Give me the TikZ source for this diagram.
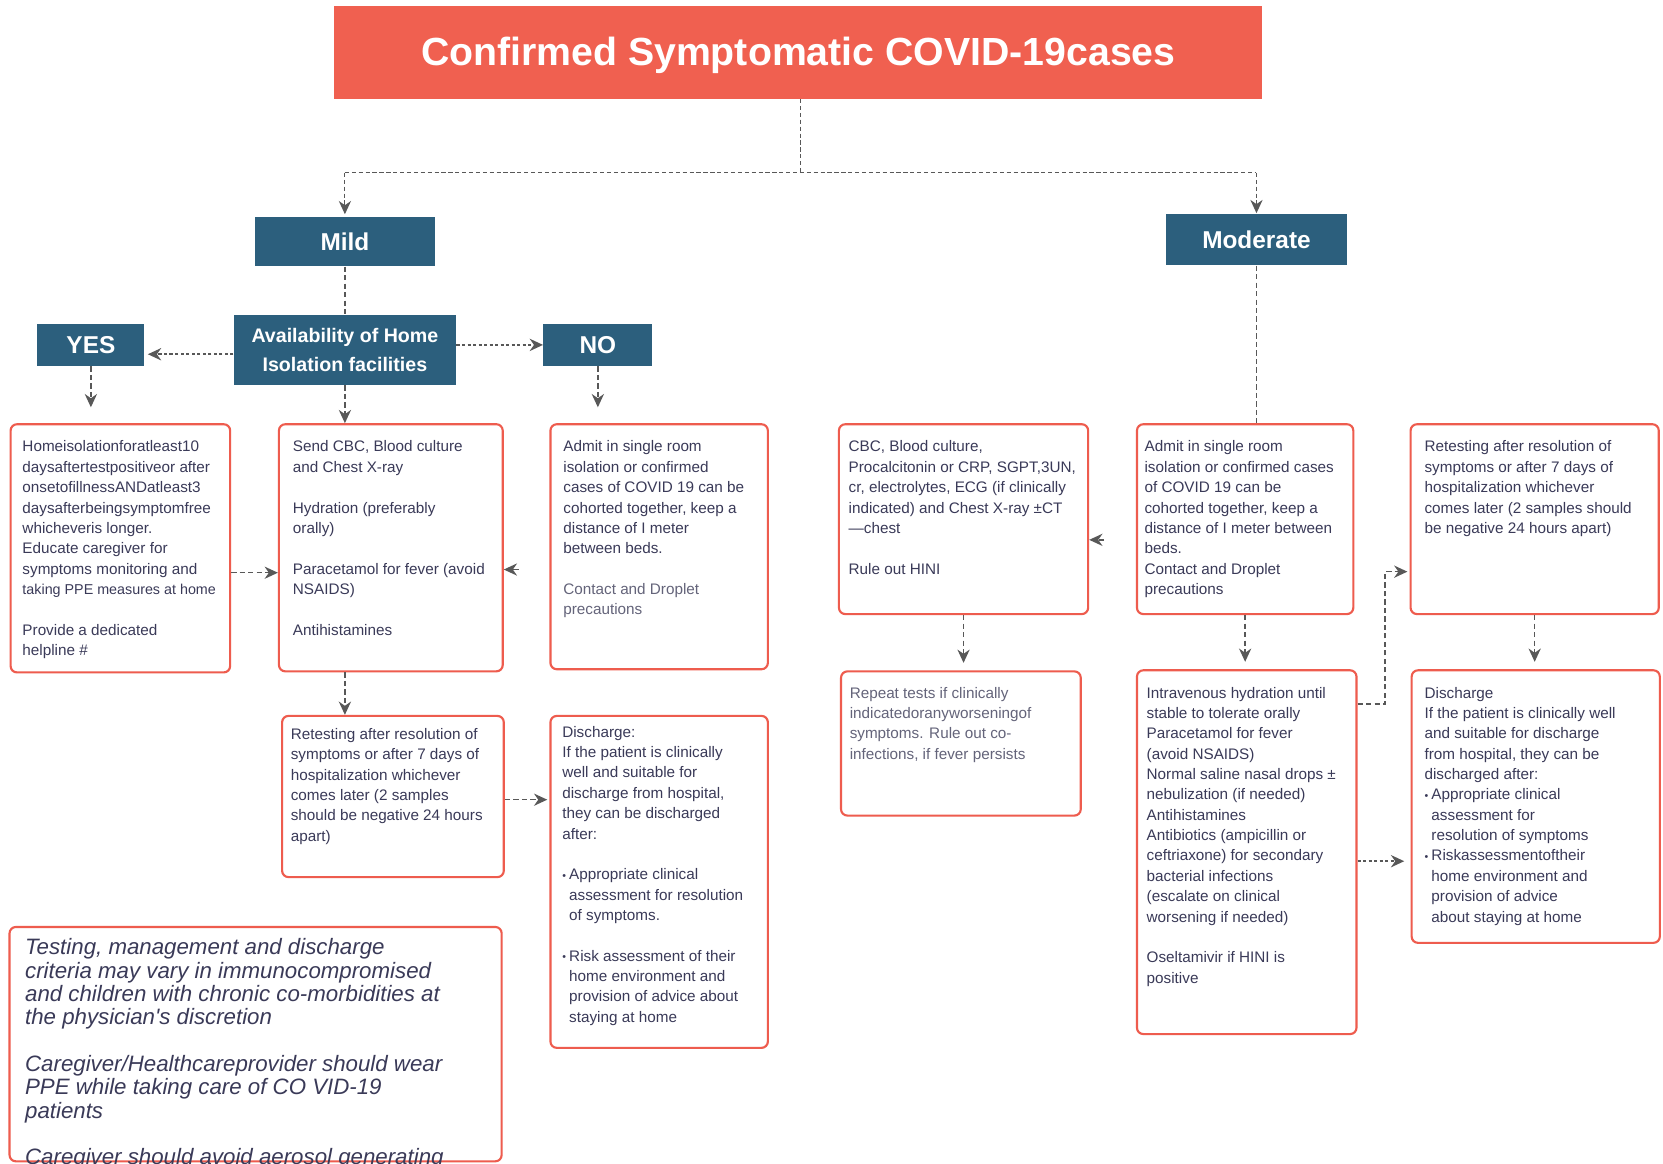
\documentclass[tikz,border=0pt]{standalone}
\usepackage{fontspec}
\setmainfont{Liberation Sans}
\usetikzlibrary{arrows.meta,calc}

\definecolor{titlered}{RGB}{240,96,80}
\definecolor{navy}{RGB}{44,95,125}
\definecolor{boxred}{RGB}{238,92,78}
\definecolor{ink}{RGB}{58,58,88}
\definecolor{softink}{RGB}{100,100,122}
\definecolor{linkgray}{RGB}{88,88,88}

% bullet and hanging indent for list items inside the cards
\newcommand\itembul{\makebox[6.5pt][l]{\raisebox{.6pt}{\fontsize{10}{10}\selectfont\textbullet}}}
\newcommand\itemind{\hspace*{6.5pt}}
\newcommand\blankline{\\[19.2pt]}

\begin{document}
\begin{tikzpicture}[x=1pt,y=-1pt,
  card/.style={draw=boxred, line width=2pt, rounded corners=6pt, anchor=north west, inner sep=0pt},
  tag/.style={fill=navy, text=white, font=\bfseries\fontsize{23}{27}\selectfont, inner sep=0pt, anchor=north west},
  body/.style={anchor=north west, inner sep=0pt, align=left, text=ink, font=\fontsize{14.4}{19.2}\selectfont},
  thinlink/.style={draw=linkgray, line width=1.1pt, dash pattern=on 4pt off 2.5pt},
  link/.style={draw=linkgray, line width=1.4pt, dash pattern=on 5pt off 3pt},
  dotlink/.style={draw=linkgray, line width=2.2pt, dash pattern=on 3pt off 2.2pt},
  tip/.style={-{Stealth[length=12.5pt,width=11.5pt,inset=4pt]}},
]
\useasboundingbox (0,0) rectangle (1568,1097);
\fill[white] (0,0) rectangle (1568,1097);
\clip (0,0) rectangle (1568,1097);

% ---------- header and category labels ----------
\node[fill=titlered, minimum width=875, minimum height=88, anchor=north west, inner sep=0pt,
      text=white, font=\bfseries\fontsize{37}{40}\selectfont] (title) at (315,5)
      {\raisebox{-3pt}[\height][\depth]{Confirmed Symptomatic COVID-19cases}};

\node[tag, minimum width=170, minimum height=47] (mild) at (240,204) {Mild};
\node[tag, minimum width=171, minimum height=48] (moderate) at (1099,202) {Moderate};
\node[tag, minimum width=210, minimum height=66, align=center,
      font=\bfseries\fontsize{18.5}{27}\selectfont] (avail) at (220,297)
      {Availability of Home\\Isolation facilities};
\node[tag, minimum width=101, minimum height=40] (yes) at (35,305) {YES};
\node[tag, minimum width=103, minimum height=40] (no) at (512,305) {NO};

% ---------- cards ----------
\node[card, minimum width=207, minimum height=234] (b1) at (9,399) {};
\node[card, minimum width=211, minimum height=233] (b2) at (262,399) {};
\node[card, minimum width=205, minimum height=231] (b3) at (518,399) {};
\node[card, minimum width=235, minimum height=179] (b4) at (790,399) {};
\node[card, minimum width=204, minimum height=179] (b5) at (1071,399) {};
\node[card, minimum width=234, minimum height=179] (b6) at (1329,399) {};
\node[card, minimum width=209, minimum height=152] (b7) at (265,674) {};
\node[card, minimum width=205, minimum height=313] (b8) at (518,674) {};
\node[card, minimum width=226, minimum height=136] (b9) at (792,632) {};
\node[card, minimum width=207, minimum height=343] (b10) at (1071,631) {};
\node[card, minimum width=234, minimum height=257] (b11) at (1330,631) {};
\node[card, minimum width=464, minimum height=221] (b12) at (8,873) {};

% ---------- card texts ----------
\node[body] (t1) at ($(b1.north west)+(12,13.5)$) {\strut Homeisolationforatleast10\\
daysaftertestpositiveor after\\
onsetofillnessANDatleast3\\
daysafterbeingsymptomfree\\
whicheveris longer.\\
Educate caregiver for\\
symptoms monitoring and\\
{\fontsize{13.5}{19.2}\selectfont taking PPE measures at home}\blankline
Provide a dedicated\\
helpline \#};

\node[body] (t2) at ($(b2.north west)+(14,13.5)$) {\strut Send CBC, Blood culture\\
and Chest X-ray\blankline
Hydration (preferably\\
orally)\blankline
Paracetamol for fever (avoid\\
NSAIDS)\blankline
Antihistamines};

\node[body] (t3) at ($(b3.north west)+(13,13.5)$) {\strut Admit in single room\\
isolation or confirmed\\
cases of COVID 19 can be\\
cohorted together, keep a\\
distance of I meter\\
between beds.\blankline
{\color{softink}Contact and Droplet}\\
{\color{softink}precautions}};

\node[body] (t4) at ($(b4.north west)+(10,13.5)$) {\strut CBC, Blood culture,\\
Procalcitonin or CRP, SGPT,3UN,\\
cr, electrolytes, ECG (if clinically\\
indicated) and Chest X-ray ±CT\\
—chest\blankline
Rule out HINI};

\node[body] (t5) at ($(b5.north west)+(8,13.5)$) {\strut Admit in single room\\
isolation or confirmed cases\\
of COVID 19 can be\\
cohorted together, keep a\\
distance of I meter between\\
beds.\\
Contact and Droplet\\
precautions};

\node[body] (t6) at ($(b6.north west)+(14,13.5)$) {\strut Retesting after resolution of\\
symptoms or after 7 days of\\
hospitalization whichever\\
comes later (2 samples should\\
be negative 24 hours apart)};

\node[body] (t7) at ($(b7.north west)+(9,9.5)$) {\strut Retesting after resolution of\\
symptoms or after 7 days of\\
hospitalization whichever\\
comes later (2 samples\\
should be negative 24 hours\\
apart)};

\node[body] (t8) at ($(b8.north west)+(12,7.5)$) {\strut Discharge:\\
If the patient is clinically\\
well and suitable for\\
discharge from hospital,\\
they can be discharged\\
after:\blankline
\itembul Appropriate clinical\\
\itemind assessment for resolution\\
\itemind of symptoms.\blankline
\itembul Risk assessment of their\\
\itemind home environment and\\
\itemind provision of advice about\\
\itemind staying at home};

\node[body, text=softink] (t9) at ($(b9.north west)+(9,12.5)$) {\strut Repeat tests if clinically\\
indicatedoranyworseningof\\
symptoms. Rule out co-\\
infections, if fever persists};

\node[body] (t10) at ($(b10.north west)+(10,13.5)$) {\strut Intravenous hydration until\\
stable to tolerate orally\\
Paracetamol for fever\\
(avoid NSAIDS)\\
Normal saline nasal drops ±\\
nebulization (if needed)\\
Antihistamines\\
Antibiotics (ampicillin or\\
ceftriaxone) for secondary\\
bacterial infections\\
(escalate on clinical\\
worsening if needed)\blankline
Oseltamivir if HINI is\\
positive};

\node[body] (t11) at ($(b11.north west)+(13,13.5)$) {\strut Discharge\\
If the patient is clinically well\\
and suitable for discharge\\
from hospital, they can be\\
discharged after:\\
\itembul Appropriate clinical\\
\itemind assessment for\\
\itemind resolution of symptoms\\
\itembul Riskassessmentoftheir\\
\itemind home environment and\\
\itemind provision of advice\\
\itemind about staying at home};

\node[body, font=\itshape\fontsize{21}{22}\selectfont] (t12) at ($(b12.north west)+(15.5,11.6)$)
{\strut Testing, management and discharge\\
criteria may vary in immunocompromised\\
and children with chronic co-morbidities at\\
the physician\textquotesingle s discretion\\[22pt]
Caregiver/Healthcareprovider should wear\\
PPE while taking care of CO VID-19\\
patients\\[22pt]
Caregiver should avoid aerosol generating};

% ---------- connectors ----------
\coordinate (split) at (755,163);
\coordinate (lsplit) at (mild.north |- split);
\coordinate (rsplit) at (moderate.north |- split);
\draw[thinlink] (title.south -| split) -- (split);
\draw[thinlink] (lsplit) -- (rsplit);
\draw[thinlink,tip,shorten >=2pt] (lsplit) -- (mild.north);
\draw[thinlink,tip,shorten >=1pt] (rsplit) -- (moderate.north);

\draw[link] (mild.south) -- (avail.north);
\draw[dotlink,tip,shorten >=3pt] (avail.west |- 0,334) -- (yes.east |- 0,334);
\draw[dotlink,tip] (avail.east |- no.west) -- (no.west);

\draw[link,tip,shorten >=15pt] (yes.south) -- (yes.south |- b1.north);
\draw[link,tip] (avail.south) -- (avail.south |- b2.north);
\draw[link,tip,shorten >=15pt] (no.south) -- (no.south |- b3.north);

\draw[link,tip] (b1.east |- 0,540) -- (b2.west |- 0,540);
\coordinate (b3in) at (b2.east |- 0,537);
\draw[link,tip] ($(b3in)+(14,0)$) -- (b3in);
\draw[link,tip] (b2.south -| avail.south) -- (b7.north -| avail.south);
\draw[link,tip,shorten >=2pt] (b7.east |- 0,754) -- (b8.west |- 0,754);

\draw[link] (moderate.south) -- (moderate.south |- b5.north);
\coordinate (b5in) at (b4.east |- 0,509);
\draw[link,tip] ($(b5in)+(14,0)$) -- (b5in);
\draw[link,tip,shorten >=7pt] (b4.south) -- (b4.south |- b9.north);
\draw[link,tip,shorten >=7pt] (b5.south) -- (b5.south |- b10.north);
\draw[link,tip,shorten >=7pt] (b6.south) -- (b6.south |- b11.north);

\coordinate (elbow) at (1306,539);
\draw[link,tip,shorten >=2pt] (b10.east |- 0,664) -| (elbow) -- (b6.west |- elbow);
\draw[dotlink,tip,shorten >=6pt] (b10.east |- 0,812) -- (b11.west |- 0,812);

\end{tikzpicture}
\end{document}
